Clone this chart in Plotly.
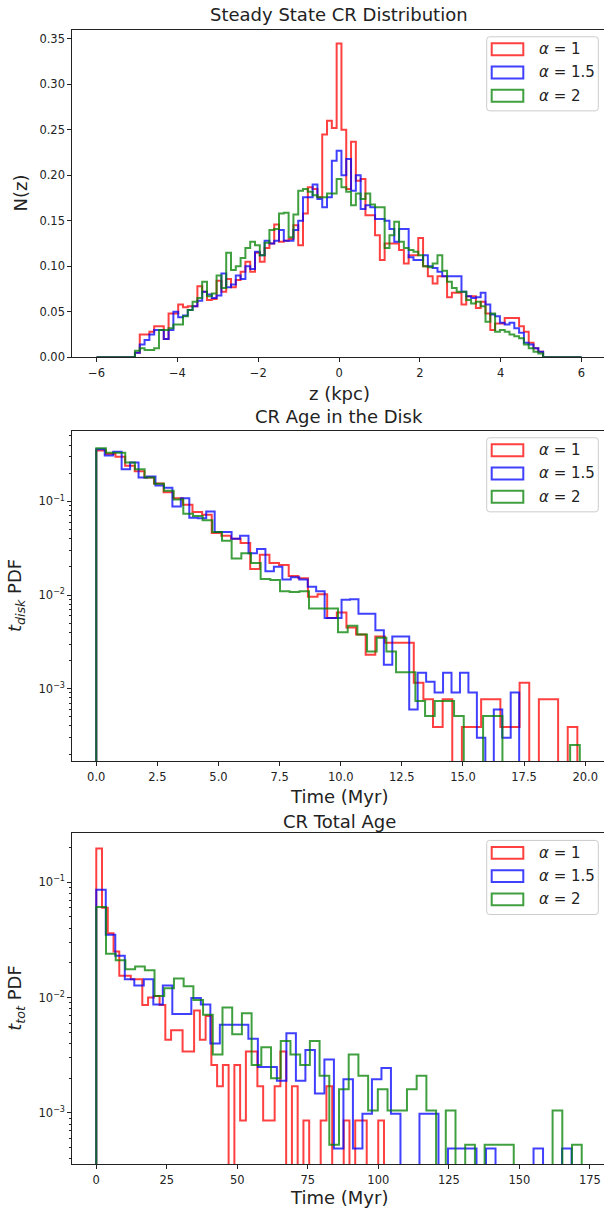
import numpy as np
import plotly.graph_objects as go

W, H = 604, 1214
FONT = "DejaVu Sans"

# ---------------- data ----------------
labels = ["<i>α</i> = 1", "<i>α</i> = 1.5", "<i>α</i> = 2"]
colors = ["rgba(255,0,0,0.75)", "rgba(0,0,255,0.75)", "rgba(0,128,0,0.75)"]

# Panel 1: steady state N(z), 101 bins on [-6, 6]; non-zero bins start at index 8
z_range = (-6.0, 6.0)
z_nbins = 101
z_first_bin = 8
nz_a1 = [0.005, 0.025, 0.025, 0.028, 0.034, 0.034, 0.020, 0.048, 0.048, 0.058,
         0.055, 0.056, 0.056, 0.078, 0.072, 0.063, 0.064, 0.084, 0.072, 0.086,
         0.077, 0.085, 0.094, 0.105, 0.094, 0.115, 0.105, 0.120, 0.125, 0.146,
         0.127, 0.128, 0.130, 0.145, 0.123, 0.158, 0.187, 0.185, 0.176, 0.245,
         0.260, 0.252, 0.345, 0.250, 0.185, 0.237, 0.194, 0.196, 0.156, 0.156,
         0.134, 0.107, 0.125, 0.125, 0.125, 0.118, 0.103, 0.112, 0.112, 0.131,
         0.100, 0.089, 0.081, 0.089, 0.089, 0.066, 0.071, 0.071, 0.058, 0.067,
         0.067, 0.054, 0.061, 0.048, 0.030, 0.037, 0.037, 0.043, 0.043, 0.043,
         0.034, 0.028, 0.016, 0.010, 0.006]
nz_a15 = [0.005, 0.014, 0.019, 0.025, 0.030, 0.030, 0.020, 0.030, 0.050, 0.044,
          0.046, 0.052, 0.056, 0.062, 0.072, 0.069, 0.065, 0.068, 0.092, 0.077,
          0.080, 0.090, 0.086, 0.100, 0.097, 0.116, 0.112, 0.128, 0.125, 0.128,
          0.140, 0.128, 0.128, 0.140, 0.150, 0.176, 0.176, 0.190, 0.174, 0.165,
          0.176, 0.216, 0.227, 0.200, 0.218, 0.183, 0.200, 0.163, 0.167, 0.165,
          0.152, 0.152, 0.150, 0.141, 0.127, 0.141, 0.141, 0.110, 0.107, 0.107,
          0.112, 0.100, 0.098, 0.094, 0.089, 0.089, 0.089, 0.089, 0.072, 0.067,
          0.065, 0.066, 0.071, 0.058, 0.047, 0.045, 0.038, 0.036, 0.038, 0.032,
          0.027, 0.016, 0.014, 0.010, 0.006]
nz_a2 = [0.007, 0.010, 0.008, 0.008, 0.010, 0.030, 0.030, 0.032, 0.036, 0.036,
         0.045, 0.052, 0.061, 0.065, 0.083, 0.067, 0.070, 0.090, 0.076, 0.115,
         0.096, 0.100, 0.109, 0.120, 0.127, 0.123, 0.112, 0.126, 0.140, 0.141,
         0.158, 0.159, 0.132, 0.157, 0.183, 0.185, 0.182, 0.178, 0.176, 0.176,
         0.180, 0.180, 0.196, 0.187, 0.182, 0.167, 0.180, 0.174, 0.180, 0.168,
         0.165, 0.165, 0.120, 0.134, 0.149, 0.127, 0.120, 0.118, 0.116, 0.112,
         0.100, 0.099, 0.103, 0.112, 0.095, 0.083, 0.076, 0.072, 0.072, 0.063,
         0.059, 0.061, 0.056, 0.039, 0.048, 0.028, 0.030, 0.028, 0.025, 0.023,
         0.021, 0.014, 0.010, 0.006, 0.004]

# Panel 2: age in disk (Myr), 50 bins from 0 to each series' maximum
tdisk_max = [19.68, 17.30, 19.78]
tdisk_a1 = [0.35, 0.32, 0.30, 0.24, 0.21, 0.18, 0.155, 0.125, 0.108, 0.092,
            0.077, 0.072, 0.046, 0.043, 0.040, 0.036, 0.019, 0.027, 0.022, 0.021,
            0.016, 0.0151, 0.0096, 0.0102, 0.0057, 0.0065, 0.0045, 0.0038, 0.0023, 0.0036,
            0.0031, 0.0031, 0.0031, 0.00116, 0.00077, 0.00039, 0.00077, 0.0, 0.00039, 0.00039,
            0.00077, 0.00077, 0.00039, 0.00039, 0.00116, 0.0, 0.00077, 0.00077, 0.0, 0.00039]
tdisk_a15 = [0.36, 0.31, 0.34, 0.22, 0.26, 0.18, 0.185, 0.148, 0.14, 0.088,
             0.108, 0.067, 0.066, 0.078, 0.047, 0.047, 0.040, 0.043, 0.028, 0.031,
             0.018, 0.020, 0.0147, 0.0155, 0.0147, 0.0123, 0.011, 0.0057, 0.0057, 0.0089,
             0.009, 0.0063, 0.0063, 0.0042, 0.0018, 0.0036, 0.0036, 0.0006, 0.00148, 0.00119,
             0.00091, 0.00148, 0.00091, 0.00148, 0.00091, 0.0003, 0.0, 0.0006, 0.0003, 0.00091]
tdisk_a2 = [0.37, 0.33, 0.33, 0.26, 0.22, 0.18, 0.154, 0.13, 0.105, 0.074,
            0.070, 0.063, 0.047, 0.038, 0.0246, 0.028, 0.022, 0.0148, 0.0145, 0.011,
            0.0108, 0.011, 0.0072, 0.0072, 0.0072, 0.004, 0.0047, 0.0038, 0.0025, 0.0035,
            0.0025, 0.0015, 0.0015, 0.00074, 0.00051, 0.00074, 0.00074, 0.00051, 0.0, 0.0,
            0.00051, 0.00051, 0.0, 0.0, 0.0, 0.0, 0.0, 0.0, 0.0, 0.00025]

# Panel 3: total age (Myr), 50 bins from 0 to each series' maximum
ttot_max = [102.0, 168.5, 172.1]
ttot_a1 = [0.196, 0.060, 0.036, 0.025, 0.0154, 0.0154, 0.0144, 0.0144, 0.0086, 0.010,
           0.0103, 0.0086, 0.0043, 0.0052, 0.0052, 0.0034, 0.0034, 0.0077, 0.0043, 0.0069,
           0.0026, 0.0017, 0.0026, 0.0, 0.0026, 0.00086, 0.0034, 0.0034, 0.0017, 0.00086,
           0.00086, 0.0017, 0.0034, 0.0, 0.0017, 0.0, 0.00086, 0.0, 0.0, 0.00086,
           0.0017, 0.0, 0.0, 0.00086, 0.0, 0.00086, 0.00086, 0.0, 0.0, 0.00086]
ttot_a15 = [0.086, 0.035, 0.023, 0.0144, 0.0127, 0.0144, 0.0087, 0.0127, 0.0072, 0.0072,
            0.0099, 0.0087, 0.0040, 0.0058, 0.0058, 0.0058, 0.0044, 0.0025, 0.0025, 0.0019,
            0.0049, 0.0019, 0.0035, 0.00147, 0.0029, 0.00049, 0.00196, 0.00049, 0.00098, 0.00196,
            0.00245, 0.00098, 0.0, 0.0, 0.00098, 0.00098, 0.0, 0.00049, 0.00049, 0.00049,
            0.0, 0.00049, 0.0, 0.0, 0.0, 0.0, 0.00049, 0.0, 0.0, 0.00049]
ttot_a2 = [0.061, 0.024, 0.021, 0.0176, 0.0186, 0.0172, 0.0103, 0.012, 0.0146, 0.0125,
           0.0095, 0.0071, 0.0032, 0.0082, 0.0048, 0.0073, 0.0026, 0.0037, 0.0020, 0.0042,
           0.0032, 0.0026, 0.0042, 0.0021, 0.00053, 0.0016, 0.0032, 0.0021, 0.00105, 0.0016,
           0.00105, 0.00105, 0.0016, 0.0021, 0.00105, 0.0, 0.00105, 0.0, 0.00053, 0.0,
           0.00053, 0.00053, 0.00053, 0.0, 0.0, 0.0, 0.0, 0.00105, 0.0, 0.00053]

# ---------------- layout geometry (pixels) ----------------
X0, X1 = 72.3, 604.0
panels = [(30.0, 359.3), (433.3, 765.7), (838.3, 1170.7)]


def py2paper(py):
    return 1 - py / H


def px2paper(px):
    return px / W


def step_xy(edges, vals, floor=0.0):
    v = [val if val > 0 else floor for val in vals]
    x = [edges[0]] + list(edges[:-1]) + [edges[-1], edges[-1]]
    y = [floor] + v + [v[-1], floor]
    return x, y


fig = go.Figure()

# Panel 1
z_edges = np.linspace(z_range[0], z_range[1], z_nbins + 1)
for vals, col, name in zip([nz_a1, nz_a15, nz_a2], colors, labels):
    full = np.zeros(z_nbins)
    full[z_first_bin:z_first_bin + len(vals)] = vals
    x, y = step_xy(z_edges, list(full))
    fig.add_trace(go.Scatter(x=x, y=y, mode="lines", line=dict(color=col, width=2, shape="hv"),
                             name=name, showlegend=False, xaxis="x", yaxis="y"))

# Panel 2
for vals, tmax, col, name in zip([tdisk_a1, tdisk_a15, tdisk_a2], tdisk_max, colors, labels):
    edges = np.linspace(0, tmax, len(vals) + 1)
    x, y = step_xy(edges, vals, floor=1e-9)
    fig.add_trace(go.Scatter(x=x, y=y, mode="lines", line=dict(color=col, width=2, shape="hv"),
                             name=name, showlegend=False, xaxis="x2", yaxis="y2"))

# Panel 3
for vals, tmax, col, name in zip([ttot_a1, ttot_a15, ttot_a2], ttot_max, colors, labels):
    edges = np.linspace(0, tmax, len(vals) + 1)
    x, y = step_xy(edges, vals, floor=1e-9)
    fig.add_trace(go.Scatter(x=x, y=y, mode="lines", line=dict(color=col, width=2, shape="hv"),
                             name=name, showlegend=False, xaxis="x3", yaxis="y3"))

TICKFONT = dict(family=FONT, size=11.5, color="#222")
common_x = dict(showline=True, linecolor="#222", linewidth=1, mirror=True, ticks="outside",
                ticklen=4, tickwidth=1, tickcolor="#222", showgrid=False, zeroline=False,
                tickfont=TICKFONT, domain=[px2paper(X0), 1], ticklabelstandoff=1)
common_y = dict(showline=True, linecolor="#222", linewidth=1, mirror=False, ticks="outside",
                ticklen=4, tickwidth=1, tickcolor="#222", showgrid=False, zeroline=False,
                tickfont=TICKFONT)


def log_minor(lo, hi):
    vals = []
    for d in range(-5, 1):
        for m in range(2, 10):
            v = m * 10.0 ** d
            if 10 ** lo <= v <= 10 ** hi:
                vals.append(v)
    return vals


y2r = [-3.775, -0.246]
y3r = [-3.443, -0.578]
major = [1e-3, 1e-2, 1e-1]
major_txt = ["10<sup>−3</sup>", "10<sup>−2</sup>", "10<sup>−1</sup>"]

fig.update_layout(
    width=W, height=H, margin=dict(l=0, r=0, t=0, b=0),
    paper_bgcolor="white", plot_bgcolor="white",
    font=dict(family=FONT, color="#222", size=12),
    xaxis=dict(common_x, anchor="y", range=[-6.6, 6.556], tick0=0, dtick=2),
    yaxis=dict(common_y, anchor="x", range=[0, 0.36], tick0=0, dtick=0.05, tickformat=".2f",
               domain=[py2paper(panels[0][1]), py2paper(panels[0][0])]),
    xaxis2=dict(common_x, anchor="y2", range=[-0.98, 20.77], tick0=0, dtick=2.5, tickformat=".1f"),
    yaxis2=dict(common_y, anchor="x2", type="log", range=y2r, tickvals=major, ticktext=major_txt,
                minor=dict(tickvals=log_minor(*y2r), ticks="outside", ticklen=2, tickcolor="#222"),
                domain=[py2paper(panels[1][1]), py2paper(panels[1][0])]),
    xaxis3=dict(common_x, anchor="y3", range=[-8.5, 180.0], tick0=0, dtick=25),
    yaxis3=dict(common_y, anchor="x3", type="log", range=y3r, tickvals=major, ticktext=major_txt,
                minor=dict(tickvals=log_minor(*y3r), ticks="outside", ticklen=2, tickcolor="#222"),
                domain=[py2paper(panels[2][1]), py2paper(panels[2][0])]),
    showlegend=False,
)

annotations = []
shapes = []
XC = 339.0
titles = ["Steady State CR Distribution", "CR Age in the Disk", "CR Total Age"]
title_y = [15, 419, 826]
xlabels = ["z (kpc)", "Time (Myr)", "Time (Myr)"]
xlabel_y = [396, 801, 1204]
ylabels = ["N(z)", "<i>t</i><sub><i>disk</i></sub> PDF", "<i>t</i><sub><i>tot</i></sub> PDF"]
ylabel_x = [21, 16, 16]

for i in range(3):
    annotations.append(dict(text=titles[i], x=px2paper(XC), y=py2paper(title_y[i]), xref="paper",
                            yref="paper", showarrow=False, xanchor="center", yanchor="middle",
                            font=dict(family=FONT, size=18, color="#222")))
    annotations.append(dict(text=xlabels[i], x=px2paper(XC), y=py2paper(xlabel_y[i]), xref="paper",
                            yref="paper", showarrow=False, xanchor="center", yanchor="middle",
                            font=dict(family=FONT, size=18, color="#222")))
    yc = (panels[i][0] + panels[i][1]) / 2
    annotations.append(dict(text=ylabels[i], x=px2paper(ylabel_x[i]), y=py2paper(yc), xref="paper",
                            yref="paper", showarrow=False, xanchor="center", yanchor="middle",
                            textangle=-90, font=dict(family=FONT, size=18, color="#222")))

    # legend box
    top = panels[i][0]
    bx0, bx1, by0, by1 = 486.7, 598.3, top + 7, top + 81.5
    r = 3
    path = (f"M {px2paper(bx0 + r)} {py2paper(by0)} L {px2paper(bx1 - r)} {py2paper(by0)} "
            f"Q {px2paper(bx1)} {py2paper(by0)} {px2paper(bx1)} {py2paper(by0 + r)} "
            f"L {px2paper(bx1)} {py2paper(by1 - r)} "
            f"Q {px2paper(bx1)} {py2paper(by1)} {px2paper(bx1 - r)} {py2paper(by1)} "
            f"L {px2paper(bx0 + r)} {py2paper(by1)} "
            f"Q {px2paper(bx0)} {py2paper(by1)} {px2paper(bx0)} {py2paper(by1 - r)} "
            f"L {px2paper(bx0)} {py2paper(by0 + r)} "
            f"Q {px2paper(bx0)} {py2paper(by0)} {px2paper(bx0 + r)} {py2paper(by0)} Z")
    shapes.append(dict(type="path", path=path, xref="paper", yref="paper",
                       fillcolor="rgba(255,255,255,0.8)", line=dict(color="#cccccc", width=1)))
    for j in range(3):
        cy = top + 19.5 + 23.4 * j
        shapes.append(dict(type="rect", xref="paper", yref="paper",
                           x0=px2paper(491.7), x1=px2paper(523.3),
                           y0=py2paper(cy + 6), y1=py2paper(cy - 6),
                           line=dict(color=colors[j], width=2), fillcolor="rgba(0,0,0,0)"))
        annotations.append(dict(text=labels[j], x=px2paper(536.7), y=py2paper(cy), xref="paper",
                                yref="paper", showarrow=False, xanchor="left", yanchor="middle",
                                font=dict(family=FONT, size=15, color="#222")))

fig.update_layout(annotations=annotations, shapes=shapes)
fig.write_html("out.html")
